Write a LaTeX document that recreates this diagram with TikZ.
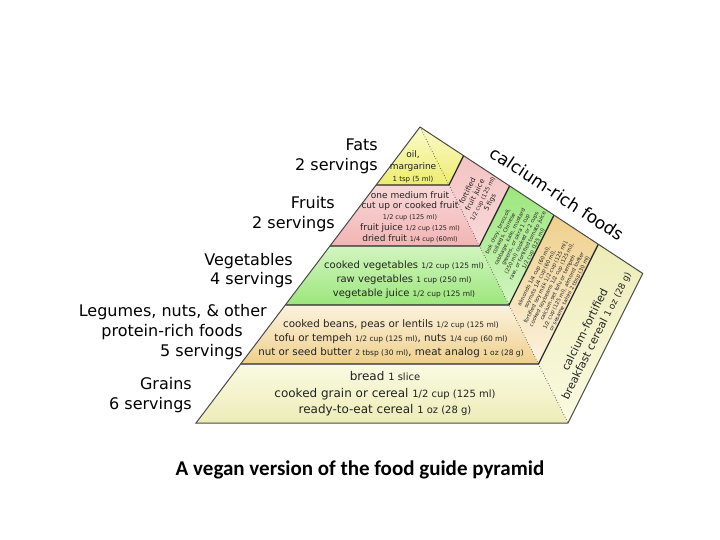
\documentclass[tikz,border=0pt]{standalone}
\usepackage{fontspec}
\setmainfont{DejaVu Sans}
\newfontfamily\capfont{Carlito}
\definecolor{fatT}{HTML}{FBFBCC}
\definecolor{fatB}{HTML}{ECEC6E}
\definecolor{fruT}{HTML}{F9D8D8}
\definecolor{fruB}{HTML}{F2B4B4}
\definecolor{vegT}{HTML}{D2F5C0}
\definecolor{vegB}{HTML}{9CE67C}
\definecolor{legT}{HTML}{FBF2DE}
\definecolor{legB}{HTML}{EFD08C}
\definecolor{graT}{HTML}{FAFAE2}
\definecolor{graB}{HTML}{EDECB8}
\definecolor{txt}{HTML}{222222}
\definecolor{edge}{HTML}{2A2A2A}
\tikzset{
  sepline/.style={line width=1.3pt, edge},
  outline/.style={line width=1pt, edge!85},
  dotline/.style={dotted, line width=0.7pt, black!70},
  label/.style={anchor=base east, inner sep=0pt, font=\fontsize{16}{19}\selectfont},
  band/.style={align=center, inner sep=0pt, text=txt},
  sidetext/.style={align=center, inner sep=0pt, text=txt, rotate=63.43},
}
\newcommand\qq[1]{{\fontsize{7.5}{9}\selectfont #1}}
\begin{document}
\begin{tikzpicture}[x=1pt,y=-1pt]
\useasboundingbox[fill=white] (0,0) rectangle (720,540);
% pyramid points
\coordinate (A) at (420,127);
\coordinate (L1) at (376.1,185); \coordinate (R1) at (449,185); \coordinate (S1) at (463.6,155.7);
\coordinate (L2) at (329.9,246); \coordinate (R2) at (479.5,246); \coordinate (S2) at (509.6,185.9);
\coordinate (L3) at (285.3,305); \coordinate (R3) at (509,305); \coordinate (S3) at (554,215.1);
\coordinate (L4) at (240.6,364); \coordinate (R4) at (538.5,364); \coordinate (S4) at (598.3,244.3);
\coordinate (BL) at (196,423); \coordinate (BR) at (568,423); \coordinate (C) at (642.8,273.5);
% fills
\shade[top color=fatT, bottom color=fatB] (A)--(L1)--(R1)--(S1)--cycle;
\shade[top color=fruT, bottom color=fruB] (L1)--(L2)--(R2)--(R1)--cycle;
\shade[top color=fruB!80, bottom color=fruT] (R1)--(R2)--(S2)--(S1)--cycle;
\shade[top color=vegT, bottom color=vegB] (L2)--(L3)--(R3)--(R2)--cycle;
\shade[top color=vegB, bottom color=vegT] (R2)--(R3)--(S3)--(S2)--cycle;
\shade[top color=legT, bottom color=legB] (L3)--(L4)--(R4)--(R3)--cycle;
\shade[top color=legB, bottom color=legT] (R3)--(R4)--(S4)--(S3)--cycle;
\shade[top color=graT, bottom color=graB] (L4)--(BL)--(BR)--(R4)--cycle;
\shade[top color=graB, bottom color=graT] (R4)--(BR)--(C)--(S4)--cycle;
% lines
\draw[dotline] (A)--(BR);
\draw[sepline] (L1)--(R1)--(S1);
\draw[sepline] (L2)--(R2)--(S2);
\draw[sepline] (L3)--(R3)--(S3);
\draw[sepline] (L4)--(R4)--(S4);
\draw[outline] (A)--(BL)--(BR)--(C)--cycle;
% left labels
\node[label] (fats1) at (378,151) {Fats};
\node[label] (fats2) at (378,171) {2 servings};
\node[label] (fru1) at (335,209) {Fruits};
\node[label] (fru2) at (335,229) {2 servings};
\node[label] (veg1) at (293,265) {Vegetables};
\node[label] (veg2) at (293,284) {4 servings};
\node[label] (leg1) at (267,316) {Legumes, nuts, \& other};
\node[label] (leg2) at (243,336) {protein-rich foods};
\node[label] (leg3) at (243,356) {5 servings};
\node[label] (gra1) at (192,389) {Grains};
\node[label] (gra2) at (192,409) {6 servings};
% band texts
\node[band, font=\fontsize{9}{12}\selectfont] (fatsT) at (413,167)
  {oil,\\margarine\\{\fontsize{7}{12}\selectfont 1 tsp (5 ml)}};
\node[band, font=\fontsize{9}{10.8}\selectfont] (fruT) at (410,217)
  {one medium fruit\\cut up or cooked fruit\\{\fontsize{6.5}{10}\selectfont 1/2 cup (125 ml)}\\
   fruit juice {\fontsize{6.5}{10}\selectfont 1/2 cup (125 ml)}\\dried fruit {\fontsize{6.5}{10}\selectfont 1/4 cup (60ml)}};
\node[band, font=\fontsize{10}{14}\selectfont] (vegT) at (404,280)
  {cooked vegetables \qq{1/2 cup (125 ml)}\\raw vegetables \qq{1 cup (250 ml)}\\vegetable juice \qq{1/2 cup (125 ml)}};
\node[band, font=\fontsize{10.3}{14}\selectfont] (legT) at (391,339)
  {cooked beans, peas or lentils \qq{1/2 cup (125 ml)}\\tofu or tempeh \qq{1/2 cup (125 ml)}, nuts \qq{1/4 cup (60 ml)}\\nut or seed butter \qq{2 tbsp (30 ml)}, meat analog \qq{1 oz (28 g)}};
\node[band, font=\fontsize{12}{16.5}\selectfont] (graT) at (385,394)
  {bread {\fontsize{10}{16}\selectfont 1 slice}\\cooked grain or cereal {\fontsize{10}{16}\selectfont 1/2 cup (125 ml)}\\ready-to-eat cereal {\fontsize{10}{16}\selectfont 1 oz (28 g)}};
% calcium side
\node[rotate=-33.33, inner sep=0pt, font=\fontsize{17}{20}\selectfont] (calc) at (557.5,193.5) {calcium-rich foods};
\node[sidetext, font=\fontsize{7.2}{8.3}\selectfont] (fruS) at (479,197)
  {fortified\\fruit juice\\{\fontsize{5.8}{8}\selectfont 1/2 cup (125 ml)}\\{\fontsize{6.8}{8}\selectfont 5 figs}};
\node[sidetext, font=\fontsize{5.3}{6.6}\selectfont] (vegS) at (516,240)
  {bok choy, broccoli,\\collards, Chinese\\cabbage, kale, mustard\\greens, or okra 1 cup\\(250 ml) cooked or 2 cups\\raw, or fortified tomato juice\\1/2 cup (125 ml)};
\node[sidetext, font=\fontsize{5.3}{6.6}\selectfont] (legS) at (552,285)
  {almonds 1/4 cup (60 ml),\\soynuts 1/4 cup (60 ml),\\fortified soy milk 1/2 cup (125 ml),\\cooked soybeans 1/2 cup (125 ml),\\calcium-set tofu or tempeh\\1/2 cup (125 ml), almond butter\\or sesame tahini 2 tbsp (30 ml)};
\node[sidetext, font=\fontsize{11}{13}\selectfont] (graS) at (591,333)
  {calcium-fortified\\breakfast cereal {\fontsize{9}{13}\selectfont 1 oz (28 g)}};
% caption
\node[anchor=base, inner sep=0pt, font=\capfont\bfseries\fontsize{21}{25}\selectfont] (cap) at (360,475)
  {A vegan version of the food guide pyramid};
\end{tikzpicture}
\end{document}
